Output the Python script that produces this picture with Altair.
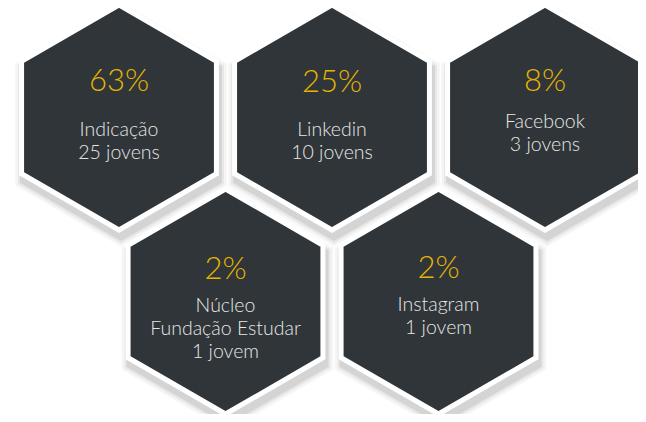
import altair as alt
import pandas as pd

# ---- data ----
channels = ["Indicação", "Linkedin", "Facebook", "Núcleo\nFundação Estudar", "Instagram"]
percents = [63, 25, 8, 2, 2]
counts = [25, 10, 3, 1, 1]
units = ["jovens", "jovens", "jovens", "jovem", "jovem"]

# ---- layout (hex grid slots, text offsets in px) ----
grid_col = [0, 1, 2, 0.5, 1.5]
grid_row = [0, 0, 0, 1, 1]
pct_offset = [-27, -26, -27, -23, -24]
label_offset = [18, 18, 10, 10, 9]

ROW_PX = 184.0
HEX = "M0,-1L0.866,-0.5L0.866,0.5L0,1L-0.866,0.5L-0.866,-0.5Z"

df = pd.DataFrame({
    "channel": channels,
    "pct": percents,
    "count": counts,
    "unit": units,
    "col": grid_col,
    "row": grid_row,
    "pct_off": pct_offset,
    "lab_off": label_offset,
})
df["pct_text"] = df["pct"].astype(str) + "%"
df["label"] = df["channel"] + "\n" + df["count"].astype(str) + " " + df["unit"]
df["pct_y"] = df["row"] + df["pct_off"] / ROW_PX
df["lab_y"] = df["row"] + df["lab_off"] / ROW_PX

xs = alt.Scale(domain=[0, 2], range=[111, 537])
ys = alt.Scale(domain=[0, 1], range=[109.5, 293.5])

base = alt.Chart(df)
X = alt.X("col:Q", scale=xs, axis=None)
Y = alt.Y("row:Q", scale=ys, axis=None)

shadows = []
for r, op in [(122, 0.05), (119, 0.07), (116.5, 0.10)]:
    shadows.append(
        base.mark_point(shape=HEX, filled=True, fill="#333333", opacity=op,
                        strokeWidth=0, size=(2 * r) ** 2, yOffset=7, xOffset=2)
        .encode(x=X, y=Y)
    )

hexes = base.mark_point(shape=HEX, filled=True, fill="#2f3538", opacity=1,
                        stroke="white", strokeWidth=5, size=225 ** 2).encode(x=X, y=Y)

pct = base.mark_text(font="Lato", fontWeight=300, fontSize=31, color="#e6b400",
                     baseline="alphabetic", align="center").encode(
    x=X, y=alt.Y("pct_y:Q", scale=ys, axis=None), text="pct_text:N")

lab = base.mark_text(font="Lato", fontWeight=300, fontSize=19.5, color="#e6e6e6",
                     baseline="alphabetic", align="center", lineBreak="\n",
                     lineHeight=23).encode(
    x=X, y=alt.Y("lab_y:Q", scale=ys, axis=None), text="label:N")

chart = alt.layer(*shadows, hexes, pct, lab).properties(
    width=630, height=406, autosize=alt.AutoSizeParams(type="none"), padding=0,
    background="white"
).configure_view(strokeWidth=0)

chart.save("out.html", embed_options={"renderer": "svg", "actions": False})
